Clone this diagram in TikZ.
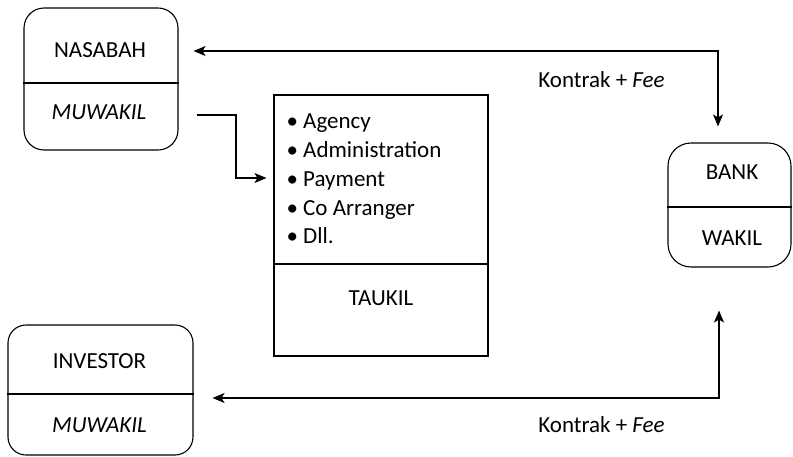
\documentclass[tikz,border=0pt]{standalone}
\usepackage{fontspec}
\setmainfont{Carlito}
\usetikzlibrary{arrows.meta}
\begin{document}
\begin{tikzpicture}[x=1pt,y=-1pt,
  line width=1.1pt,
  >={Stealth[length=12pt,width=10pt,inset=3pt]},
  box/.style={draw, rounded corners=#1, inner sep=0pt},
  box/.default=20pt,
  sqbox/.style={draw, inner sep=0pt},
  txt/.style={font=\fontsize{23}{28}\selectfont, inner sep=0pt, anchor=base},
  item/.style={font=\fontsize{23}{28}\selectfont, inner sep=0pt, anchor=base west},
  arr/.style={->},
  dbl/.style={<->}]
\useasboundingbox (0,0) rectangle (793,456);

% boxes
\node[box=20pt, minimum width=154pt, minimum height=142pt] (nas) at (101,79) {};
\node[box=18pt, minimum width=185pt, minimum height=130pt] (inv) at (100.5,390) {};
\node[box=23pt, minimum width=123pt, minimum height=124pt] (bank) at (729.5,205) {};
\node[sqbox, minimum width=214pt, minimum height=261pt] (tau) at (381,225.5) {};

% dividers
\draw (nas.west |- 0,83) -- (nas.east |- 0,83);
\draw (inv.west |- 0,394) -- (inv.east |- 0,394);
\draw (bank.west |- 0,207) -- (bank.east |- 0,207);
\draw (tau.west |- 0,264) -- (tau.east |- 0,264);

% texts
\node[txt] (nasT) at (100,57) {NASABAH};
\node[txt] (nasM) at (99,119) {\textit{MUWAKIL}};
\node[txt] (invT) at (99.5,368) {INVESTOR};
\node[txt] (invM) at (99.5,432) {\textit{MUWAKIL}};
\node[txt] (bankT) at (732,179) {BANK};
\node[txt] (bankM) at (732,245) {WAKIL};
\node[txt] (tauT) at (381,305) {TAUKIL};
\node[item] (i1) at (286,128) {• Agency};
\node[item] (i2) at (286,157) {• Administration};
\node[item] (i3) at (286,186) {• Payment};
\node[item] (i4) at (286,215) {• Co Arranger};
\node[item] (i5) at (286,243) {• Dll.};
\node[txt] (k1) at (601.5,87) {Kontrak + \textit{Fee}};
\node[txt] (k2) at (601.5,432) {Kontrak + \textit{Fee}};

% connectors
\coordinate (c1) at (718,51);
\draw[dbl] ([xshift=15pt]nas.east |- c1) -- (c1) -- ([yshift=16pt]bank.north -| c1);
\coordinate (m1) at (236,115);
\draw[arr] ([xshift=18pt]nas.east |- m1) -- (m1) |- ([xshift=-7pt]tau.west |- 0,178);
\coordinate (c2) at (719,398);
\draw[dbl] ([xshift=19pt]inv.east |- c2) -- (c2) -- ([yshift=-43pt]bank.south -| c2);
\end{tikzpicture}
\end{document}
